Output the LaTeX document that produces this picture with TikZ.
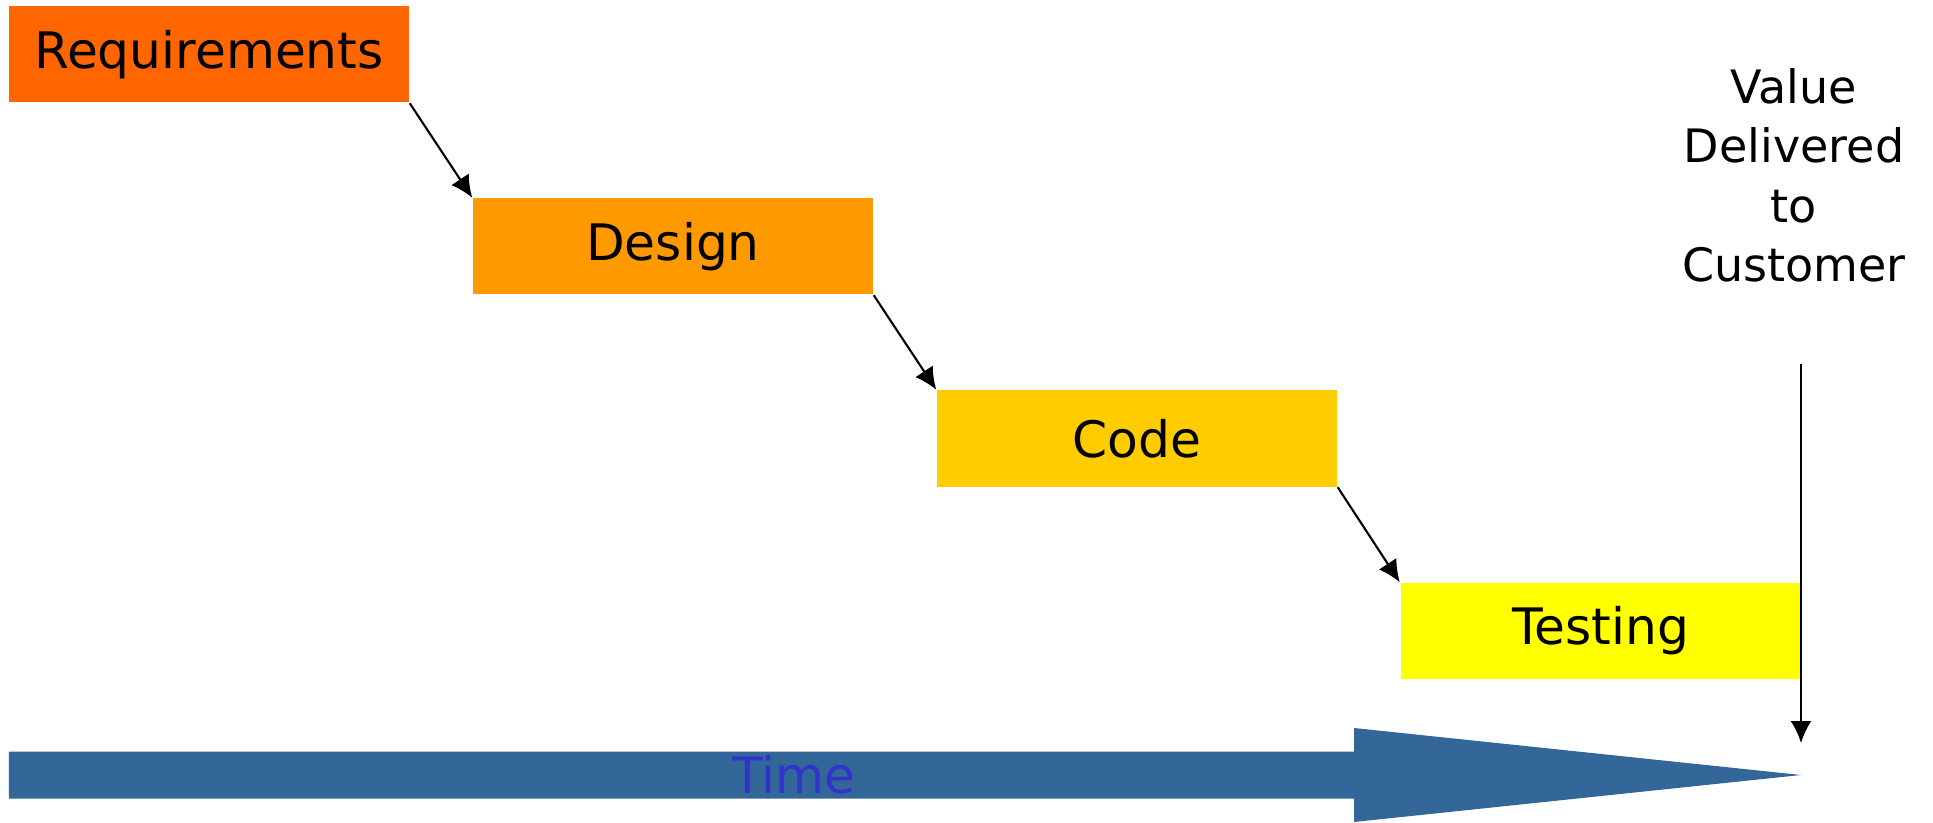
\documentclass[tikz,border=0pt]{standalone}
\usepackage{fontspec}
\setmainfont{DejaVu Sans}
\usetikzlibrary{arrows.meta}
\definecolor{reqorange}{HTML}{FF6600}
\definecolor{designorange}{HTML}{FF9900}
\definecolor{codeyellow}{HTML}{FFCC00}
\definecolor{testyellow}{HTML}{FFFF00}
\definecolor{timeblue}{HTML}{336699}
\definecolor{timetext}{HTML}{3333CC}

\begin{document}
\begin{tikzpicture}[
    phase/.style={rectangle,minimum width=4cm,minimum height=0.96cm,inner sep=0pt,
      font=\fontsize{14.3}{17}\selectfont},
    flow/.style={line width=0.6pt,-{Latex[length=2.2mm,width=2.1mm]}}
  ]
    \useasboundingbox (0,0) rectangle (19.33,8.22);
    % phases
    \node[phase,fill=reqorange] (req) at (2.09,7.675) {Requirements};
    \node[phase,fill=designorange] (design) at (6.73,5.755) {Design};
    \node[phase,fill=codeyellow] (code) at (11.37,3.835) {Code};
    \node[phase,fill=testyellow] (test) at (16.005,1.91) {Testing};
    \draw[flow] (req.south east) -- (design.north west);
    \draw[flow] (design.south east) -- (code.north west);
    \draw[flow] (code.south east) -- (test.north west);
    % time arrow
    \fill[timeblue] (0.09,0.235) -- (13.54,0.235) -- (13.54,0) -- (18.01,0.47)
      -- (13.54,0.94) -- (13.54,0.705) -- (0.09,0.705) -- cycle;
    \node[timetext,font=\fontsize{14.3}{17}\selectfont] (time) at (7.94,0.47) {Time};
    % delivery
    \node[align=center,inner sep=0pt,font=\fontsize{13.1}{16.9}\selectfont] (value)
      at (17.94,6.465) {Value\\Delivered\\to\\Customer};
    \coordinate (deliver) at (18.01,0.79);
    \draw[flow,shorten <=0.81cm] (value.south -| deliver) -- (deliver);
  \end{tikzpicture}
\end{document}
